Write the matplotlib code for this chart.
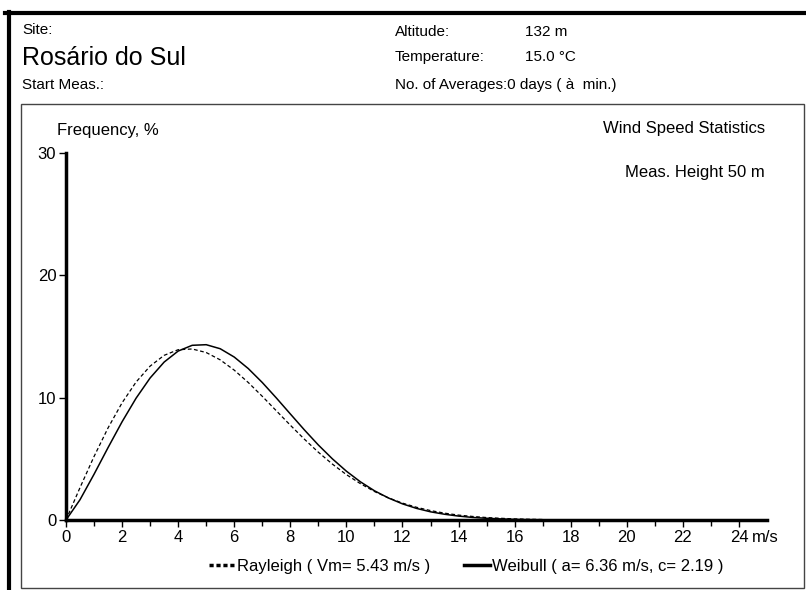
import matplotlib.pyplot as plt
from matplotlib.lines import Line2D
from matplotlib.patches import Rectangle

# wind speed bins (m/s) and frequency (%) of the fitted distributions
speed = [0, 0.5, 1, 1.5, 2, 2.5, 3, 3.5, 4, 4.5, 5, 5.5, 6, 6.5, 7, 7.5, 8, 8.5,
         9, 9.5, 10, 10.5, 11, 11.5, 12, 12.5, 13, 13.5, 14, 14.5, 15, 15.5,
         16, 16.5, 17]
weibull = [0, 1.66, 3.74, 5.92, 8.03, 9.96, 11.61, 12.91, 13.81, 14.28, 14.33,
           14.0, 13.32, 12.38, 11.24, 9.98, 8.67, 7.37, 6.13, 5.0, 3.99, 3.12,
           2.39, 1.80, 1.32, 0.95, 0.67, 0.47, 0.32, 0.21, 0.14, 0.09, 0.05,
           0.03, 0.02]
rayleigh = [0, 2.65, 5.19, 7.53, 9.58, 11.28, 12.58, 13.46, 13.92, 13.98, 13.69,
            13.09, 12.25, 11.24, 10.11, 8.93, 7.75, 6.61, 5.54, 4.57, 3.71, 2.97,
            2.33, 1.81, 1.38, 1.04, 0.77, 0.56, 0.40, 0.29, 0.20, 0.14, 0.09,
            0.06, 0.04]

x_ticks = [0, 2, 4, 6, 8, 10, 12, 14, 16, 18, 20, 22, 24]
y_ticks = [0, 10, 20, 30]

W, H = 806, 590
plt.rcParams['font.family'] = ['Liberation Sans', 'DejaVu Sans']


def fx(px):
    return px / W


def fy(py):
    return 1 - py / H


fig = plt.figure(figsize=(W / 100, H / 100), dpi=100)

# page frame and plot box
fig.add_artist(Line2D([fx(5), fx(806)], [fy(13), fy(13)], color='black', lw=3))
fig.add_artist(Line2D([fx(9), fx(9)], [fy(12), fy(590)], color='black', lw=3))
fig.add_artist(Rectangle((fx(21), fy(588)), fx(804) - fx(21), fy(104) - fy(588),
                         fill=False, edgecolor='#444444', lw=1))

# header
fig.text(fx(22), fy(30), "Site:", fontsize=11, va='center')
fig.text(fx(22), fy(58), "Rosário do Sul", fontsize=18, va='center')
fig.text(fx(22), fy(85), "Start Meas.:", fontsize=11, va='center')
fig.text(fx(395), fy(32), "Altitude:", fontsize=11, va='center')
fig.text(fx(525), fy(32), "132 m", fontsize=11, va='center')
fig.text(fx(395), fy(57), "Temperature:", fontsize=11, va='center')
fig.text(fx(525), fy(57), "15.0 °C", fontsize=11, va='center')
fig.text(fx(395), fy(85), "No. of Averages:0 days ( à  min.)", fontsize=11, va='center')

ax = fig.add_axes([fx(66), fy(520), fx(767) - fx(66), fy(153) - fy(520)])
ax.plot(speed, rayleigh, color='black', lw=0.9, dashes=(3, 2))
ax.plot(speed, weibull, color='black', lw=1.1)

ax.set_xlim(0, 25)
ax.set_ylim(0, 30)
ax.set_xticks(x_ticks)
ax.set_xticks(range(1, 24, 2), minor=True)
ax.set_yticks(y_ticks)
ax.spines['top'].set_visible(False)
ax.spines['right'].set_visible(False)
ax.spines['left'].set_linewidth(2.5)
ax.spines['bottom'].set_linewidth(2.5)
ax.tick_params(axis='both', which='major', length=5, width=1, labelsize=12, pad=2)
ax.tick_params(axis='x', which='minor', length=4, width=1)
ax.patch.set_alpha(0)

# unit after the last x tick label
ax.annotate("m/s", xy=(24, 0), xycoords=ax.get_xaxis_transform(),
            xytext=(9.5, -7), textcoords='offset points', fontsize=12,
            ha='left', va='top')

fig.text(fx(57), fy(130), "Frequency, %", fontsize=12, va='center')
fig.text(fx(765), fy(129), "Wind Speed Statistics", fontsize=12, va='center', ha='right')
fig.text(fx(765), fy(173), "Meas. Height 50 m", fontsize=12, va='center', ha='right')

handles = [Line2D([], [], color='black', lw=2.5, dashes=(1.2, 0.8)),
           Line2D([], [], color='black', lw=2.5)]
fig.legend(handles, ["Rayleigh ( Vm= 5.43 m/s )", "Weibull ( a= 6.36 m/s, c= 2.19 )"],
           loc='center', bbox_to_anchor=(fx(466), fy(566)), ncol=2, frameon=False,
           fontsize=12, handlelength=1.6, handletextpad=0.1, columnspacing=2.0,
           borderpad=0)

fig.savefig("out.png", dpi=100)
